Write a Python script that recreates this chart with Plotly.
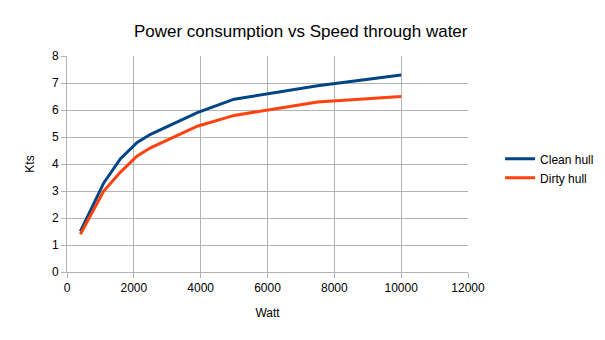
import plotly.graph_objects as go

# Power draw (W) and the resulting speed (kts)
watts = [400, 1100, 1600, 2100, 2500, 3900, 5000, 7500, 10000]
clean_hull = [1.5, 3.3, 4.2, 4.8, 5.1, 5.9, 6.4, 6.9, 7.3]
dirty_hull = [1.4, 3.0, 3.7, 4.3, 4.6, 5.4, 5.8, 6.3, 6.5]

x_ticks = [0, 2000, 4000, 6000, 8000, 10000, 12000]
y_ticks = [0, 1, 2, 3, 4, 5, 6, 7, 8]

FONT = "Liberation Sans, Arial, sans-serif"
GRID = "#b3b3b3"

fig = go.Figure()
fig.add_trace(go.Scatter(x=watts, y=clean_hull, mode="lines", name="Clean hull",
                         line=dict(color="#004586", width=3)))
fig.add_trace(go.Scatter(x=watts, y=dirty_hull, mode="lines", name="Dirty hull",
                         line=dict(color="#ff420e", width=3)))

# fixed plot area (67..468 px wide, 56..272 px high); legend sits to its right
fig.update_layout(
    width=605, height=340,
    margin=dict(l=67, r=137, t=56, b=68, autoexpand=False),
    paper_bgcolor="white", plot_bgcolor="white",
    font=dict(family=FONT, size=12, color="#000000"),
    title=dict(text="Power consumption vs Speed through water",
               x=0.497, xanchor="center", y=0.91, yanchor="middle",
               font=dict(size=17, family=FONT, color="#000000")),
    legend=dict(x=1.08, xanchor="left", y=0.48, yanchor="middle",
                font=dict(size=12, family=FONT), itemwidth=30,
                tracegroupgap=2),
    showlegend=True,
)
fig.update_xaxes(range=[0, 12000], tickvals=x_ticks,
                 ticktext=[str(v) for v in x_ticks],
                 showgrid=True, gridcolor=GRID, gridwidth=1,
                 showline=True, linecolor=GRID, zeroline=False,
                 ticks="outside", ticklen=5, tickcolor=GRID,
                 tickfont=dict(size=12, color="#000000"),
                 title=dict(text="Watt", font=dict(size=12), standoff=14))
fig.update_yaxes(range=[0, 8], tickvals=y_ticks,
                 showgrid=True, gridcolor=GRID, gridwidth=1,
                 showline=True, linecolor=GRID, zeroline=False,
                 ticks="outside", ticklen=5, tickcolor=GRID,
                 tickfont=dict(size=12, color="#000000"),
                 title=dict(text="Kts", font=dict(size=12), standoff=14))

fig.write_html("out.html")
